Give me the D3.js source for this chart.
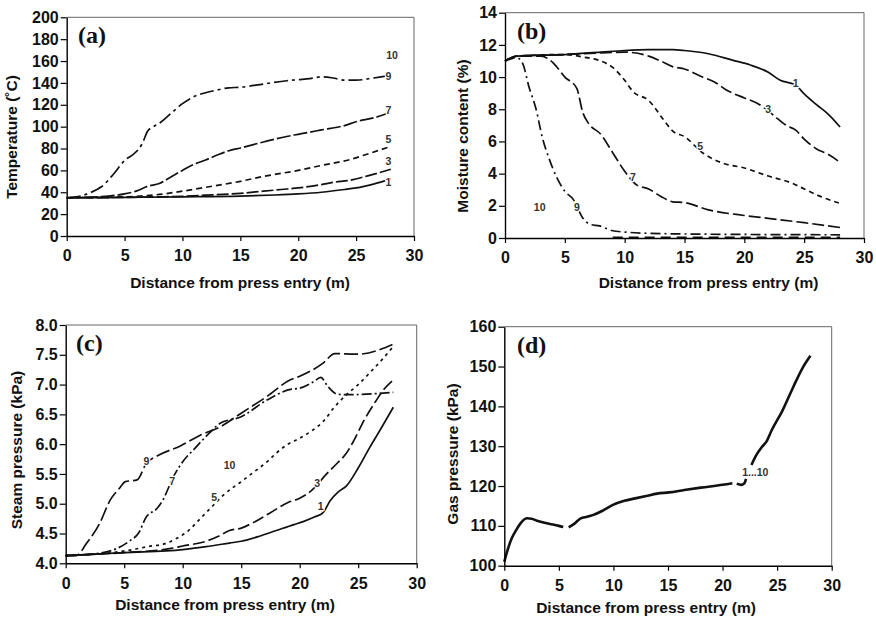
<!DOCTYPE html>
<html><head><meta charset="utf-8">
<script src="https://cdn.jsdelivr.net/npm/d3@7"></script>
<style>
body{margin:0;background:#fff;}
text{font-family:"Liberation Sans",Arial,sans-serif;}
</style></head>
<body><svg id="c" width="876" height="619"></svg>
<script>
// ---------- DATA ----------
const xTicks = [0,5,10,15,20,25,30];
// (a) Temperature (°C)
const tempS1 = [[0,35],[5,35.3],[10,35.8],[15,36.5],[18,37.5],[20,38.5],[22,40],[24,42.5],[25,44],[26.5,47.5],[28,52]];
const tempS3 = [[0,35],[5,35.3],[8,35.8],[10,36.3],[12,37.3],[15,39],[17,41],[19,43],[20,44],[22,47],[23,49],[24.5,51],[26,55],[28,61]];
const tempS5 = [[0,35],[4,35.5],[6,36.3],[8,38],[10,41],[12,44.5],[15,50],[17,54.5],[20,60],[22,64.5],[24.5,70],[26,75],[28,82]];
const tempS7 = [[0,35],[3,36],[5,38.5],[6,41],[7,45.5],[8,48],[9,54],[10,60],[11,65.5],[12,69.5],[13,74],[14,78],[15,80.5],[17,86],[19,91],[20,93],[22,97],[24,101],[25,104.5],[26.5,108],[28,113]];
const tempS9 = [[0,35],[1,36],[2,39.5],[3,45],[4,56],[5,69],[6,77],[6.5,84],[7,96],[7.5,100],[8,103],[9,112],[10,121],[11,127.5],[12,131],[13,133.5],[14,135.5],[15,136],[17,139],[19,142],[20,143],[21,144],[22,145.5],[23,144.5],[24,142.5],[25,142.5],[26.5,144.5],[28,147]];
const tempLabels = [["10",28.1,165.5],["9",27.8,146],["7",27.8,115],["5",27.8,88.5],["3",27.8,68],["1",27.8,49]];
const tempTicks = [0,20,40,60,80,100,120,140,160,180,200];
// (b) Moisture content (%)
const moistS1 = [[0,11],[1,11.3],[5,11.4],[8,11.55],[10,11.65],[12,11.7],[14,11.7],[15,11.65],[17,11.45],[19,11.05],[20.5,10.75],[22,10.3],[23,9.8],[24.3,9.5],[25,8.95],[26,8.3],[27,7.7],[28,6.9]];
const moistS3 = [[0,11],[1,11.3],[5,11.4],[8,11.5],[10,11.55],[12,11.3],[13,11.0],[14,10.65],[15,10.5],[16.5,10.0],[17.5,9.7],[18.5,9.2],[20,8.7],[21,8.4],[22,7.9],[22.8,7.4],[23.5,7.0],[24.3,6.7],[25,6.15],[26,5.55],[27,5.2],[28,4.7]];
const moistS5 = [[0,11],[1,11.3],[5,11.4],[6.5,11.25],[8,11.0],[9,10.6],[10,9.8],[10.7,9.1],[12,8.55],[13.2,7.4],[14,6.65],[15,6.3],[16.5,5.3],[18.2,4.65],[20,4.35],[22,3.85],[24,3.4],[25,3.05],[26.3,2.6],[28,2.15]];
const moistS7 = [[0,11],[1,11.3],[3,11.3],[4,10.9],[5,10.0],[6,9.3],[6.5,7.8],[7,7.1],[8,6.45],[9,5.3],[10,4.15],[11,3.3],[12,3.05],[13,2.6],[14,2.25],[15,2.2],[17,1.75],[20,1.4],[22,1.22],[25,0.95],[28,0.65]];
const moistS9 = [[0,11],[1,11.2],[1.5,10.8],[2,9.4],[2.6,8.0],[3.1,6.3],[3.7,4.9],[4.3,3.8],[5,2.9],[5.7,2.4],[6.5,1.25],[7.1,0.85],[7.9,0.75],[9,0.45],[10,0.37],[12,0.29],[15,0.25],[20,0.22],[28,0.2]];
const moistS10 = [[9,0.04],[28,0.04]];
const moistLabels = [["1",24.3,9.6],["3",22.0,8.0],["5",16.3,5.7],["7",10.7,3.8],["9",6.0,1.9],["10",2.9,1.9]];
const moistTicks = [0,2,4,6,8,10,12,14];
// (c) Steam pressure (kPa)
const steamS1 = [[0,4.13],[2,4.15],[5,4.18],[10,4.23],[12,4.28],[14,4.34],[15,4.37],[16.5,4.45],[18,4.55],[19.5,4.65],[20.3,4.7],[21.3,4.78],[22,4.85],[22.6,5.05],[23.3,5.2],[24,5.3],[25,5.6],[26,5.95],[27,6.28],[28,6.62]];
const steamS3 = [[0,4.13],[5,4.18],[9,4.25],[10,4.29],[12,4.37],[13,4.45],[14,4.55],[15,4.59],[16,4.68],[17.5,4.85],[19,5.02],[20,5.09],[21,5.22],[22.3,5.5],[23.2,5.68],[24,5.85],[24.6,6.05],[25.5,6.4],[26.5,6.72],[27.2,6.92],[28,7.08]];
const steamS5 = [[0,4.13],[4,4.18],[6,4.24],[7,4.28],[8.5,4.33],[9.5,4.42],[10.5,4.55],[11.5,4.75],[12.5,4.95],[13.5,5.15],[15,5.37],[16,5.52],[17.3,5.72],[18,5.85],[19,6.0],[20,6.1],[21,6.22],[22,6.38],[23,6.63],[24,6.83],[25,7.0],[26,7.2],[27,7.41],[28,7.64]];
const steamS7 = [[0,4.13],[2,4.15],[4,4.22],[5.5,4.38],[6.2,4.5],[6.9,4.78],[7.8,4.92],[8.3,5.06],[9.2,5.45],[10.1,5.73],[10.9,5.9],[12,6.13],[13.2,6.35],[15,6.46],[17.2,6.74],[19.2,6.92],[20,6.94],[21.2,7.05],[21.8,7.12],[22.4,6.97],[23.2,6.84],[24,6.83],[28,6.87]];
const steamS9 = [[0,4.13],[0.9,4.13],[1.8,4.34],[2.9,4.67],[3.8,5.06],[4.6,5.26],[5.1,5.37],[6.1,5.4],[6.9,5.68],[7.8,5.8],[9.8,5.97],[11.5,6.15],[13.2,6.29],[15,6.52],[17.2,6.8],[19.2,7.08],[20,7.14],[22,7.36],[23,7.52],[25,7.51],[28,7.68]];
const steamLabels = [["9",6.9,5.71],["7",9.1,5.37],["10",14.0,5.64],["5",12.7,5.11],["3",21.5,5.34],["1",21.8,4.95]];
const steamTicks = [4.0,4.5,5.0,5.5,6.0,6.5,7.0,7.5,8.0];
// (d) Gas pressure (kPa) — null marks a break in the drawn line
const gasS = [[0,101],[0.2,103],[0.4,104.8],[0.7,107],[1.1,109],[1.5,110.7],[2.1,111.9],[2.5,111.8],[3,111.3],[4,110.6],[5,110],[5.4,109.7],[5.6,null],[5.9,109.6],[6.4,110.5],[7,111.9],[7.6,112.3],[8.1,112.7],[9,113.8],[9.9,115.2],[11,116.3],[12,116.9],[13,117.5],[14,118.1],[15.1,118.4],[16.5,119],[18,119.6],[20,120.3],[20.9,120.7],[21.1,null],[21.3,120.6],[21.7,120.3],[22.0,120.7],[22.15,121.8],[22.4,null],[22.65,125.3],[23.1,127.8],[23.6,129.8],[24.0,131.1],[24.5,134],[25.5,139],[26.5,145],[27.3,149.5],[28.05,152.7]];
const gasLabels = [["1...10",23.0,123.4]];
const gasTicks = [100,110,120,130,140,150,160];

// ---------- DRAWING ----------
const svg = d3.select("#c");
const FONT = "'Liberation Sans', Arial, sans-serif";

function panel(cfg){
  const x = d3.scaleLinear().domain([0,30]).range([cfg.l,cfg.r]);
  const y = d3.scaleLinear().domain(cfg.yDom).range([cfg.b,cfg.t]);
  const g = svg.append("g");
  g.append("path").attr("d",`M${cfg.l},${cfg.t}H${cfg.r}V${cfg.b}`)
    .attr("fill","none").attr("stroke","#666").attr("stroke-width",1);
  const lineGen = d3.line().defined(d=>d[1]!==null)
    .x(d=>x(d[0])).y(d=>y(d[1])).curve(d3.curveMonotoneX);
  cfg.series.forEach(s=>{
    g.append("path").datum(s.data).attr("d",lineGen)
      .attr("fill","none").attr("stroke","#111").attr("stroke-width",s.w||1.7)
      .attr("stroke-dasharray",s.dash||null).attr("stroke-linecap","butt");
  });
  cfg.labels.forEach(l=>{
    g.append("text").attr("x",x(l[1])).attr("y",y(l[2])).attr("dy","0.35em")
      .attr("text-anchor","middle").attr("font-size",10.5).attr("font-weight","bold")
      .attr("fill","#333").attr("stroke","#fff").attr("stroke-width",2.5)
      .attr("stroke-linejoin","round")
      .attr("paint-order","stroke").style("font-family",FONT).text(l[0]);
  });
  const xa = g.append("g").attr("transform",`translate(0,${cfg.b})`)
    .call(d3.axisBottom(x).tickValues(xTicks).tickSize(5).tickSizeOuter(0).tickPadding(9));
  const ya = g.append("g").attr("transform",`translate(${cfg.l},0)`)
    .call(d3.axisLeft(y).tickValues(cfg.yTicks).tickSize(6).tickSizeOuter(0).tickPadding(2)
      .tickFormat(cfg.fmt||d3.format("d")));
  [xa,ya].forEach(a=>{
    a.select(".domain").attr("stroke","#000").attr("stroke-width",1.4);
    a.selectAll(".tick line").attr("stroke","#000").attr("stroke-width",1.2);
    a.selectAll("text").attr("font-size",16).attr("font-weight","bold")
      .attr("fill","#111").style("font-family",FONT);
  });
  g.append("text").attr("x",cfg.xt[0]).attr("y",cfg.xt[1]).attr("dy","0.35em")
    .attr("text-anchor","middle").attr("font-size",15.5).attr("font-weight","bold")
    .attr("fill","#111").style("font-family",FONT).text("Distance from press entry (m)");
  g.append("text").attr("transform",`translate(${cfg.yt[0]},${cfg.yt[1]}) rotate(-90)`)
    .attr("dy","0.35em").attr("text-anchor","middle").attr("font-size",15.5).attr("font-weight","bold")
    .attr("fill","#111").style("font-family",FONT).text(cfg.ytitle);
  g.append("text").attr("x",cfg.tag[0]).attr("y",cfg.tag[1])
    .attr("font-size",24).attr("font-weight","bold").attr("fill","#111")
    .style("font-family","'Liberation Serif','Times New Roman',serif").text(cfg.tagText);
}

panel({l:66.7,r:414,t:17.3,b:236,yDom:[0,200],yTicks:tempTicks,
  ytitle:"Temperature (˚C)",xt:[240,283],yt:[12,137],tag:[78,43],tagText:"(a)",
  labels:tempLabels,
  series:[{data:tempS1},{data:tempS3,dash:"12,3"},{data:tempS5,dash:"6,4"},
          {data:tempS7,dash:"14,3"},{data:tempS9,dash:"14,4,3,4"}]});

panel({l:505,r:864,t:12.7,b:238,yDom:[0,14],yTicks:moistTicks,
  ytitle:"Moisture content (%)",xt:[708.5,283],yt:[463,136],tag:[517,39],tagText:"(b)",
  labels:moistLabels,
  series:[{data:moistS1},{data:moistS3,dash:"12,4"},{data:moistS5,dash:"5,4"},
          {data:moistS7,dash:"12,4"},{data:moistS9,dash:"10,4,2,4"},{data:moistS10,dash:"10,6"}]});

panel({l:65.7,r:416.7,t:325,b:563.3,yDom:[4,8],yTicks:steamTicks,fmt:d3.format(".1f"),
  ytitle:"Steam pressure (kPa)",xt:[225,605],yt:[17,450],tag:[76,351],tagText:"(c)",
  labels:steamLabels,
  series:[{data:steamS1},{data:steamS3,dash:"12,4"},{data:steamS5,dash:"3,4"},
          {data:steamS7,dash:"10,3,2,3"},{data:steamS9,dash:"14,4"}]});

panel({l:504.3,r:831.7,t:326.7,b:565.7,yDom:[100,160],yTicks:gasTicks,
  ytitle:"Gas pressure (kPa)",xt:[646,608],yt:[453,454],tag:[517,353],tagText:"(d)",
  labels:gasLabels,
  series:[{data:gasS,w:2.6}]});
</script></body></html>
